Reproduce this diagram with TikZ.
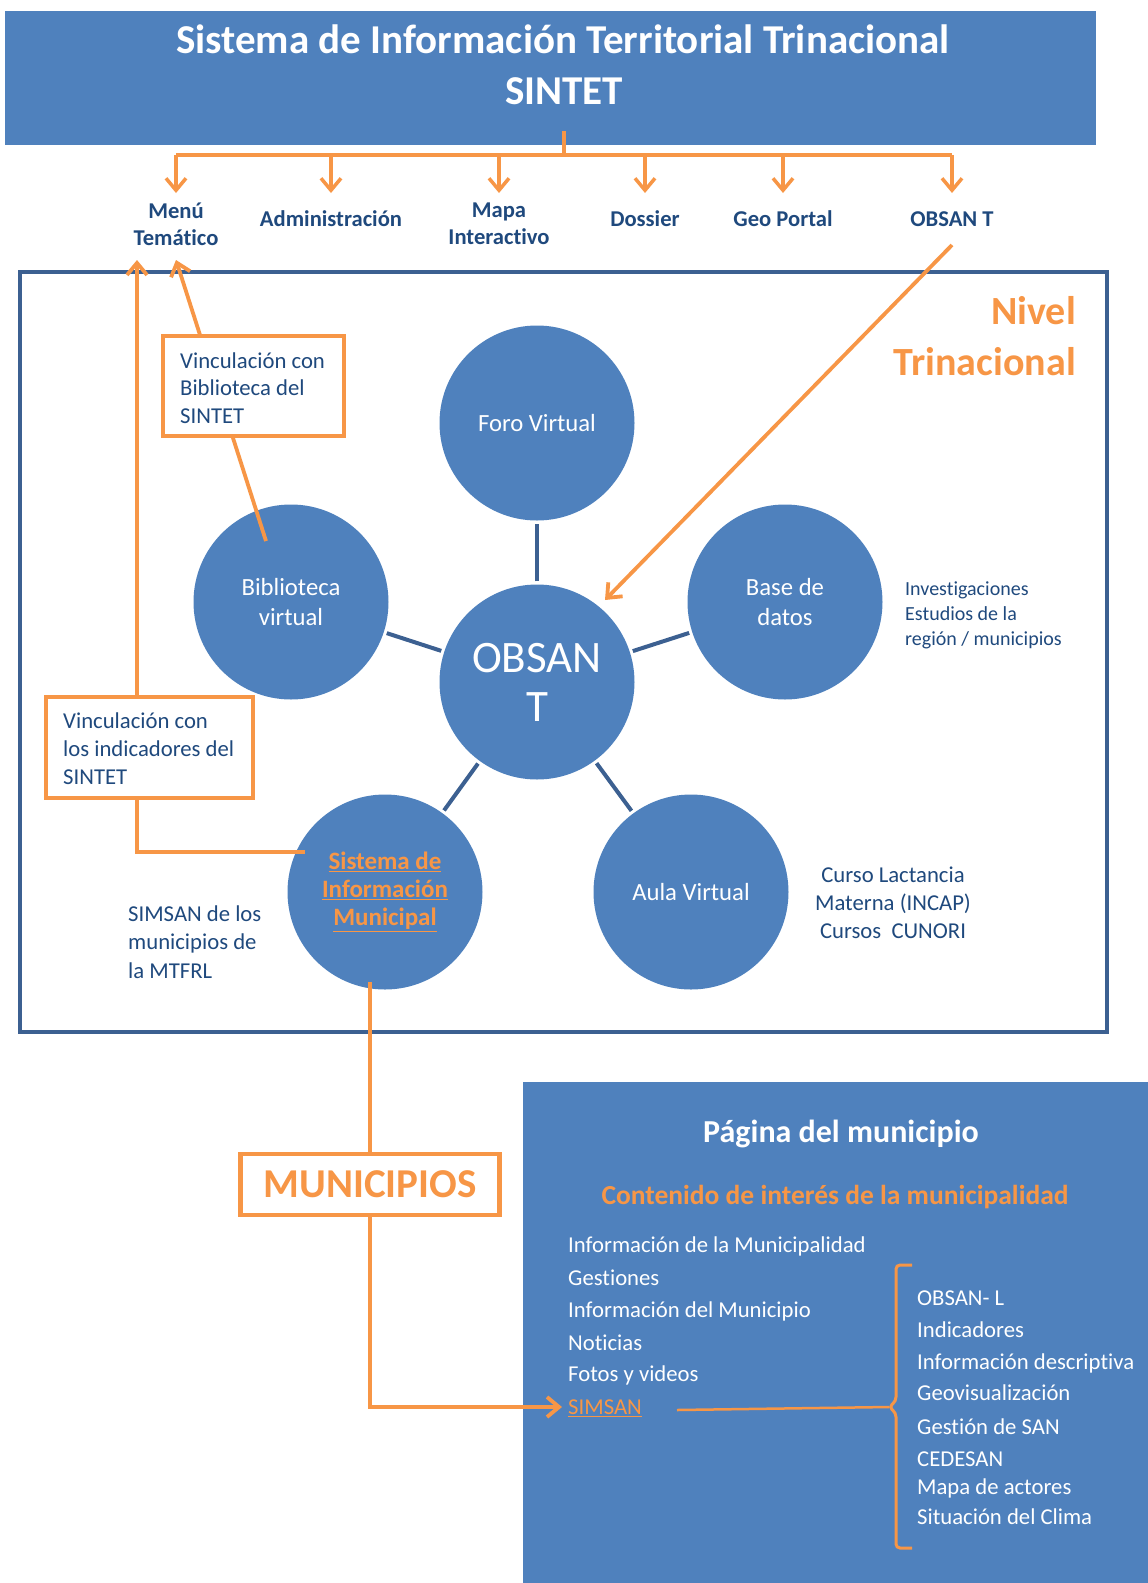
\documentclass[tikz,border=0pt]{standalone}
\usepackage{fontspec}
\setmainfont{Carlito}[Ligatures=NoCommon]
\usetikzlibrary{arrows.meta}
\definecolor{sblue}{HTML}{4F81BD}
\definecolor{dblue}{HTML}{3C6091}
\definecolor{navy}{HTML}{1F497D}
\definecolor{sorange}{HTML}{F79646}
\newcommand{\fs}[2]{\fontsize{#1}{#2}\selectfont}
\begin{document}
\begin{tikzpicture}[x=1pt,y=-1pt,
  bubble/.style={circle, fill=sblue, minimum size=195pt, inner sep=0pt, text=white, align=center},
  link/.style={draw=dblue, line width=4pt, shorten <=3pt, shorten >=3pt},
  oline/.style={draw=sorange, line width=3.8pt},
  oarrow/.style={oline, -{Straight Barb[length=12pt,width=20pt]}},
  obox/.style={draw=sorange, line width=4.5pt, fill=white, rectangle, inner sep=0pt},
  menulabel/.style={text=navy, font=\bfseries\fs{22.6}{27}, align=center, inner sep=0pt},
  listitem/.style={anchor=mid west, text=white, font=\fs{22.7}{27}, inner sep=0pt},
  sidetext/.style={text=navy, inner sep=0pt}
]
\useasboundingbox (0,0) rectangle (1148,1583);

% ---------- title ----------
\node[fill=sblue, minimum width=1091pt, minimum height=134pt, inner sep=0pt] (title) at (550.5,78) {};
\node[anchor=mid, text=white, font=\bfseries\fs{41}{49}, inner sep=0pt] (t1) at (563,51.5) {Sistema de Información Territorial Trinacional};
\node[anchor=mid, text=white, font=\bfseries\fs{41}{49}, inner sep=0pt] (t2) at (564,102.5) {SINTET};

% ---------- menu ----------
\node[menulabel] (menu) at (176,224) {Menú\\Temático};
\node[menulabel, anchor=mid] (admin) at (331,224) {Administración};
\node[menulabel] (mapa) at (499,224) {Mapa\\Interactivo};
\node[menulabel, anchor=mid] (dossier) at (645,224) {Dossier};
\node[menulabel, anchor=mid] (geo) at (783,224) {Geo Portal};
\node[menulabel, anchor=mid] (obsant) at (952,224) {OBSAN T};

\coordinate (drop) at (564,131);
\coordinate (bus) at (564,155);
\coordinate (tipy) at (0,193);
\draw[oline, line width=3.5pt] (drop) -- (bus);
\draw[oline, line width=3.5pt] (menu |- bus) -- (obsant |- bus);
\foreach \n in {menu,admin,mapa,dossier,geo,obsant}
  \draw[oarrow, line width=3.5pt] (\n |- bus) -- (\n |- tipy);

% ---------- frame ----------
\node[draw=dblue, line width=4pt, minimum width=1087pt, minimum height=760pt, inner sep=0pt] (frame) at (563.5,652) {};
\node[anchor=mid east, text=sorange, font=\bfseries\fs{40}{48}, inner sep=0pt] (nivel) at (1076,322) {Nivel};
\node[anchor=mid east, text=sorange, font=\bfseries\fs{40}{48}, inner sep=0pt] (trin) at (1076,373) {Trinacional};

% ---------- circles ----------
\node[bubble, font=\fs{24.7}{30}] (foro) at (537,423) {Foro Virtual};
\node[bubble, font=\fs{45}{49}] (obsan) at (537,682) {OBSAN\\T};
\node[bubble, font=\fs{24.7}{30}] (bib) at (291,602) {Biblioteca\\virtual};
\node[bubble, font=\fs{24.7}{30}] (base) at (785,602) {Base de\\datos};
\node[bubble, font=\bfseries\fs{25}{28}, text=sorange] (sim) at (385,892) {\underline{Sistema de}\\\underline{Información}\\\underline{Municipal}};
\node[bubble, font=\fs{24.7}{30}] (aula) at (691,892) {Aula Virtual};

\draw[link] (obsan) -- (foro);
\draw[link] (obsan) -- (bib);
\draw[link] (obsan) -- (base);
\draw[link] (obsan) -- (sim);
\draw[link] (obsan) -- (aula);

% ---------- side texts ----------
\node[sidetext, anchor=west, align=left, font=\fs{20}{25}] (inv) at (905,615) {Investigaciones\\Estudios de la\\región / municipios};
\node[sidetext, align=center, font=\fs{22.7}{28}] (curso) at (893,903) {Curso Lactancia\\Materna (INCAP)\\Cursos\ \ CUNORI};
\node[sidetext, anchor=west, align=left, font=\fs{22.7}{28.5}] (simsanm) at (128,942) {SIMSAN de los\\municipios de\\la MTFRL};

% ---------- orange links to menu ----------
\coordinate (bibp) at (266,541);
\coordinate (tipA) at (176,260);
\coordinate (simp) at (305,852);
\coordinate (tipB) at (137,260);
\draw[oarrow] (bibp) -- (tipA);
\draw[oarrow] (simp) -| (tipB);

\node[obox, minimum width=181pt, minimum height=100pt] (vb) at (253.5,386) {};
\node[sidetext, anchor=west, align=left, font=\fs{22.7}{27.5}] (vbt) at (180,388) {Vinculación con\\Biblioteca del\\SINTET};
\node[obox, minimum width=207pt, minimum height=101pt] (vi) at (149.5,747.5) {};
\node[sidetext, anchor=west, align=left, font=\fs{22.7}{28}] (vit) at (63,749) {Vinculación con\\los indicadores del\\SINTET};

% ---------- municipios ----------
\node[obox, minimum width=259pt, minimum height=61pt, text=sorange, font=\bfseries\fs{41}{49}] (muni) at (370,1184.5) {MUNICIPIOS};
\coordinate (simb) at (370,982);
\draw[oline] (simb) -- (muni.north);

% ---------- municipal page ----------
\node[fill=sblue, minimum width=640pt, minimum height=520pt, inner sep=0pt, anchor=north west] (page) at (523,1082) {};
\node[anchor=mid, text=white, font=\bfseries\fs{32}{38}, inner sep=0pt] (pag) at (841,1140) {Página del municipio};
\node[anchor=mid, text=sorange, font=\bfseries\fs{27.5}{33}, inner sep=0pt] (cont) at (835,1202) {Contenido de interés de la municipalidad};

\node[listitem] (l1) at (568,1250) {Información de la Municipalidad};
\node[listitem] (l2) at (568,1283.5) {Gestiones};
\node[listitem] (l3) at (568,1315) {Información del Municipio};
\node[listitem] (l4) at (568,1348) {Noticias};
\node[listitem] (l5) at (568,1379) {Fotos y videos};
\node[listitem, text=sorange] (simsan) at (568,1412) {\underline{SIMSAN}};

\coordinate (arrtip) at (562,1407);
\draw[oarrow] (muni.south) |- (arrtip);

\node[listitem] (r1) at (917,1303) {OBSAN- L};
\node[listitem] (r2) at (917,1335) {Indicadores};
\node[listitem] (r3) at (917,1367) {Información descriptiva};
\node[listitem] (r4) at (917,1398) {Geovisualización};
\node[listitem] (r5) at (917,1432) {Gestión de SAN};
\node[listitem] (r6) at (917,1464) {CEDESAN};
\node[listitem] (r7) at (917,1492) {Mapa de actores};
\node[listitem] (r8) at (917,1522) {Situación del Clima};

\coordinate (sl) at (677,1410);
\coordinate (bmid) at (889,1407);
\draw[sorange, line width=2.5pt] (sl) -- (bmid);
\draw[sorange, line width=3pt, rounded corners=4pt] (912,1265) -- (896,1265) -- (896,1401) -- (bmid) -- (896,1413) -- (896,1548) -- (912,1548);

% ---------- OBSAN T arrow ----------
\coordinate (oa) at (952,245);
\coordinate (ob) at (605,600);
\draw[oarrow] (oa) -- (ob);
\end{tikzpicture}
\end{document}
